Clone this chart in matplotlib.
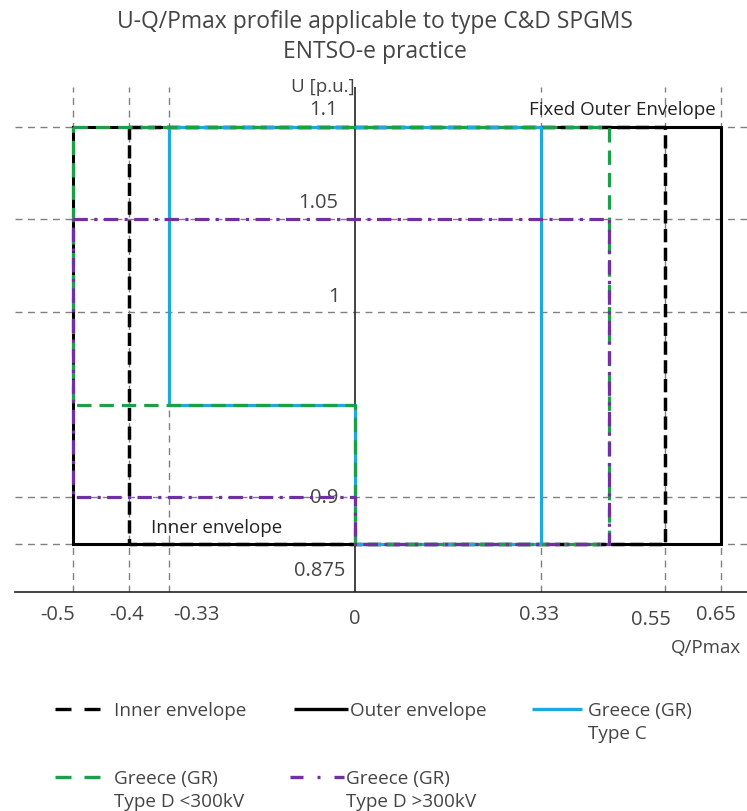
import matplotlib
matplotlib.use("Agg")
import matplotlib.pyplot as plt
from matplotlib.lines import Line2D

plt.rcParams['font.family'] = ['Open Sans', 'DejaVu Sans']

# ---------------- data ----------------
x_ticks = [-0.5, -0.4, -0.33, 0, 0.33, 0.55, 0.65]
x_tick_labels = ["-0.5", "-0.4", "-0.33", "0", "0.33", "0.55", "0.65"]
y_ticks = [1.1, 1.05, 1.0, 0.9, 0.875]
y_tick_labels = ["1.1", "1.05", "1", "0.9", "0.875"]

outer_q = [-0.5, 0.65, 0.65, -0.5, -0.5]
outer_u = [1.1, 1.1, 0.875, 0.875, 1.1]

inner_q = [-0.4, 0.55, 0.55, -0.4, -0.4]
inner_u = [1.1, 1.1, 0.875, 0.875, 1.1]

gr_c_q = [-0.33, 0.33, 0.33, 0, 0, -0.33, -0.33]
gr_c_u = [1.1, 1.1, 0.875, 0.875, 0.95, 0.95, 1.1]

gr_d_low_q = [-0.5, 0.45, 0.45, 0, 0, -0.5, -0.5]
gr_d_low_u = [1.1, 1.1, 0.875, 0.875, 0.95, 0.95, 1.1]

gr_d_high_q = [-0.5, 0.45, 0.45, 0, 0, -0.5, -0.5]
gr_d_high_u = [1.05, 1.05, 0.875, 0.875, 0.9, 0.9, 1.05]

legend_labels = ["Inner envelope", "Outer envelope", "Greece (GR)\nType C",
                 "Greece (GR)\nType D <300kV", "Greece (GR)\nType D >300kV"]

# ---------------- figure ----------------
W, H = 747, 812
fig = plt.figure(figsize=(W / 100, H / 100), dpi=100)
fig.patch.set_facecolor("white")

px_left, px_right, px_top, px_bottom = 15, 747, 88, 593
ax = fig.add_axes([px_left / W, (H - px_bottom) / H,
                   (px_right - px_left) / W, (px_bottom - px_top) / H])
ax.set_xlim(-0.603, 0.6955)
ax.set_ylim(0.849, 1.1214)
for s in ["top", "right", "left"]:
    ax.spines[s].set_visible(False)
ax.spines["bottom"].set_color("#222222")
ax.spines["bottom"].set_linewidth(1.2)
ax.set_xticks([])
ax.set_yticks([])

grid_col = "#808080"
for xv in x_ticks:
    if xv != 0:
        ax.axvline(xv, color=grid_col, lw=1.0, ls=(0, (5, 4)), zorder=1)
for yv in y_ticks:
    ax.axhline(yv, color=grid_col, lw=1.0, ls=(0, (5, 4)), zorder=1)

ax.axvline(0, color="#222222", lw=1.2, zorder=2)

c_blue = "#1fa8e0"
c_green = "#1e9e48"
c_purple = "#7030a0"

ax.plot(outer_q, outer_u, color="black", lw=2.2, solid_joinstyle="miter", zorder=3)
ax.plot(inner_q, inner_u, color="black", lw=2.5, ls=(0, (3.8, 1.6)), zorder=4)
ax.plot(gr_c_q, gr_c_u, color=c_blue, lw=2.3, zorder=5)
ax.plot(gr_d_low_q, gr_d_low_u, color=c_green, lw=2.3, ls=(0, (4.5, 2.5)), zorder=6)
ax.plot(gr_d_high_q, gr_d_high_u, color=c_purple, lw=2.3,
        ls=(0, (4.5, 2.0, 1.0, 2.0)), zorder=7)

txt = "#444444"
pt = 0.72  # points per pixel at 100 dpi
ylo = ax.get_ylim()[0]
yhi = ax.get_ylim()[1]

# x tick labels (offsets in px)
x_off = [-15, -3, 28, 0, -2, -14, -5]
x_dy = [22, 22, 22, 26, 22, 27, 22]
for v, lab, dx, dy in zip(x_ticks, x_tick_labels, x_off, x_dy):
    ax.annotate(lab, xy=(v, ylo), xycoords="data", xytext=(dx * pt, -dy * pt),
                textcoords="offset points", ha="center", va="center",
                fontsize=14.5, color=txt, annotation_clip=False)

# y tick labels
y_dx = [-17, -17, -15, -17, -10]
y_dy = [18, 17, 16, 0, -26]
for v, lab, dx, dy in zip(y_ticks, y_tick_labels, y_dx, y_dy):
    ax.annotate(lab, xy=(0, v), xycoords="data", xytext=(dx * pt, dy * pt),
                textcoords="offset points", ha="right", va="center",
                fontsize=14.5, color=txt, annotation_clip=False)

ax.annotate("U [p.u.]", xy=(0, yhi), xytext=(-32 * pt, 1 * pt),
            textcoords="offset points", ha="center", va="center",
            fontsize=13.5, color=txt, annotation_clip=False)
ax.annotate("Q/Pmax", xy=(0.65, ylo), xytext=(-15 * pt, -55 * pt),
            textcoords="offset points", ha="center", va="center",
            fontsize=13.5, color=txt, annotation_clip=False)
ax.annotate("Fixed Outer Envelope", xy=(0.65, 1.1), xytext=(-99 * pt, 18 * pt),
            textcoords="offset points", ha="center", va="center",
            fontsize=13.5, color="#222222", annotation_clip=False)
ax.annotate("Inner envelope", xy=(-0.33, 0.875), xytext=(48 * pt, 17 * pt),
            textcoords="offset points", ha="center", va="center",
            fontsize=13.5, color="#222222", annotation_clip=False)

fig.text(375 / W, 1 - 22 / H, "U-Q/Pmax profile applicable to type C&D SPGMS",
         ha="center", va="center", fontsize=16.5, color=txt)
fig.text(375 / W, 1 - 52 / H, "ENTSO-e practice",
         ha="center", va="center", fontsize=16.5, color=txt)

# legend (handles aligned with the first text line, as in the reference)
leg_styles = [
    dict(color="black", lw=2.4, ls=(0, (4.8, 3.9))),
    dict(color="black", lw=2.4, ls="-"),
    dict(color=c_blue, lw=2.4, ls="-"),
    dict(color=c_green, lw=2.4, ls=(0, (4.8, 3.9))),
    dict(color=c_purple, lw=2.4, ls=(0, (3.9, 4.2, 0.9, 4.2))),
]
leg_pos = [  # (handle x0, handle x1, text x, y) in pixels
    (55, 100, 114, 710),
    (294, 348, 350, 710),
    (532, 582, 588, 710),
    (55, 100, 114, 778),
    (290, 344, 346, 778),
]
for lab, st, (hx0, hx1, tx, yy) in zip(legend_labels, leg_styles, leg_pos):
    fig.add_artist(Line2D([hx0 / W, hx1 / W], [1 - yy / H, 1 - yy / H],
                          transform=fig.transFigure, solid_capstyle="butt",
                          dash_capstyle="butt", **st))
    fig.text(tx / W, 1 - (yy - 8) / H, lab, ha="left", va="top",
             fontsize=13.6, color=txt, linespacing=1.35)

fig.savefig("out.png", dpi=100)
